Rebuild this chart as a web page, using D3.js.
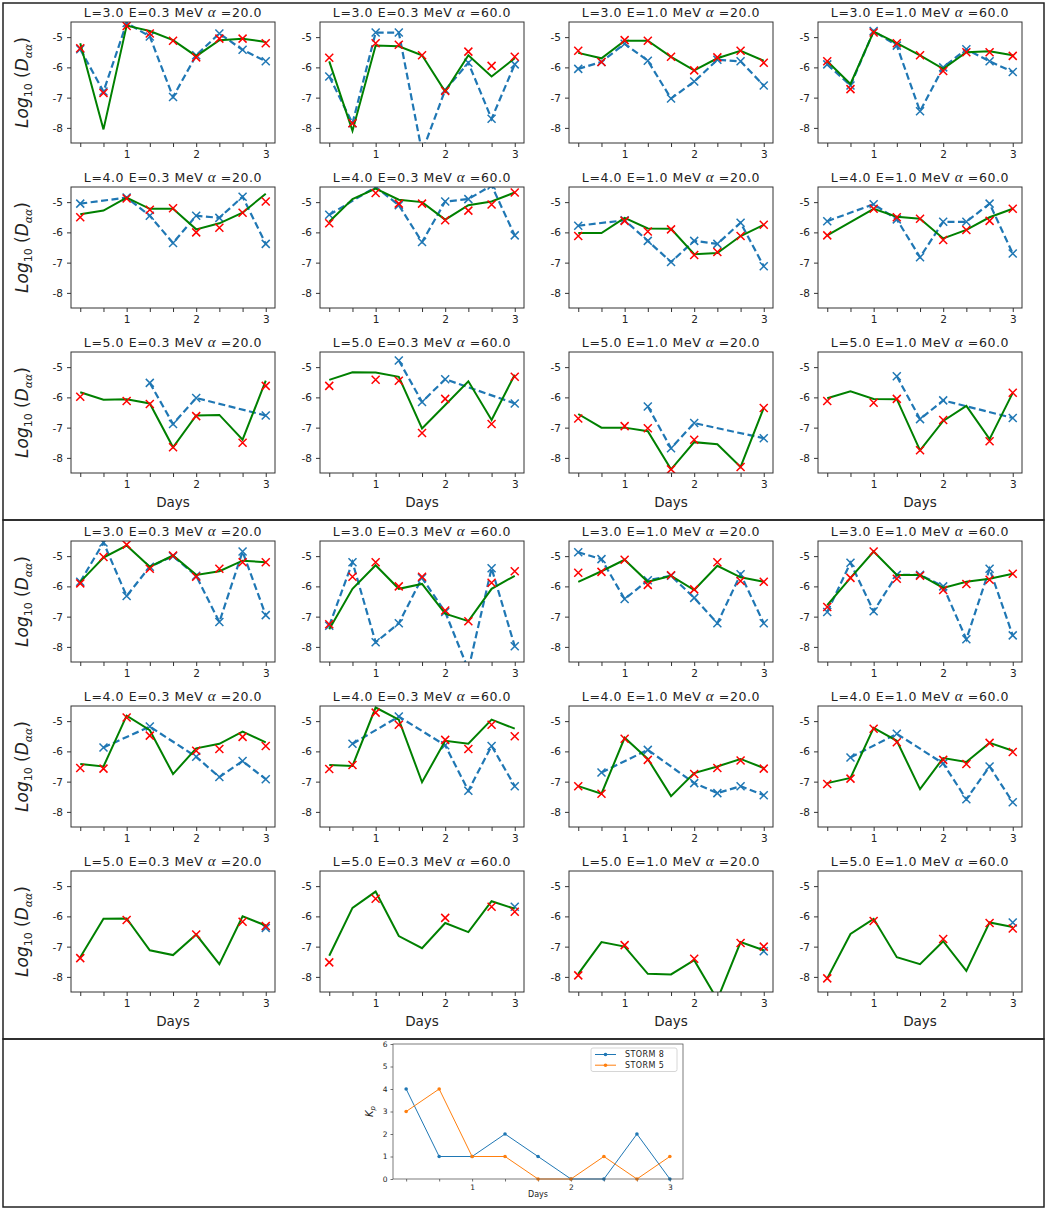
<!DOCTYPE html>
<html lang="en">
<head>
<meta charset="utf-8">
<title>Diffusion coefficients and Kp</title>
<script src="https://d3js.org/d3.v7.min.js"></script>
<style>
  body { margin: 0; background: #fff; }
  svg text { font-family: "DejaVu Sans", sans-serif; fill: #222; }
  .axis path, .axis line { stroke: #333; }
</style>
</head>
<body>
<svg id="fig" width="1052" height="1211"></svg>
<script>
// x positions (days) and their labels
const days = [0.333, 0.667, 1, 1.333, 1.667, 2, 2.333, 2.667, 3];
const dayLabels = ["", "", "1", "", "", "2", "", "", "3"];
const yTicks = [-5, -6, -7, -8];

// subplot titles
const shells = ["3.0", "4.0", "5.0"];
const energies = ["0.3", "0.3", "1.0", "1.0"];
const pitchAngles = ["20.0", "60.0", "20.0", "60.0"];

// top block, 12 subplots row by row
const topGreen = [
  [-5.2, -8.05, -4.62, -4.8, -5.1, -5.63, -5.1, -5.05, -5.16],
  [-5.8, -8.1, -5.28, -5.3, -5.6, -6.8, -5.6, -6.3, -5.7],
  [-5.52, -5.7, -5.12, -5.12, -5.65, -6.1, -5.7, -5.45, -5.78],
  [-5.8, -6.55, -4.82, -5.2, -5.6, -6.05, -5.5, -5.47, -5.6],
  [-5.4, -5.28, -4.85, -5.22, -5.22, -5.9, -5.7, -5.35, -4.72],
  [-5.65, -4.9, -4.55, -4.92, -5.0, -5.58, -5.1, -4.98, -4.68],
  [-6.02, -6.02, -5.52, -5.87, -5.88, -6.72, -6.68, -6.12, -5.75],
  [-6.1, null, -5.22, -5.48, -5.55, -6.2, -5.92, -5.5, -5.22],
  [-5.83, -6.08, -6.06, -6.2, -7.65, -6.6, -6.58, -7.4, -5.45],
  [-5.42, -5.17, -5.18, -5.32, -7.03, -6.25, -5.47, -6.75, -5.25],
  [-6.55, -7.0, -7.0, -7.12, -8.38, -7.48, -7.55, -8.3, -6.35],
  [-6.03, -5.8, -6.05, -6.06, -7.75, -6.78, -6.28, -7.38, -5.85]
];
const topBlue = [
  [-5.4, -6.8, -4.53, -4.98, -6.98, -5.6, -4.88, -5.42, -5.8],
  [-6.3, -7.85, -4.85, -4.85, -8.8, -6.75, -5.85, -7.7, -5.9],
  [-6.05, -5.82, -5.22, -5.78, -7.03, -6.47, -5.75, -5.8, -6.6],
  [-5.9, -6.6, -4.8, -5.28, -7.45, -6.0, -5.4, -5.8, -6.15],
  [-5.05, null, -4.85, -5.45, -6.35, -5.45, -5.52, -4.82, -6.38],
  [-5.42, null, -4.5, -5.1, -6.32, -4.98, -4.9, -4.45, -6.1],
  [-5.78, null, -5.6, -6.28, -6.98, -6.28, -6.38, -5.68, -7.12],
  [-5.63, null, -5.07, -5.57, -6.82, -5.65, -5.65, -5.05, -6.7],
  [null, null, null, -5.52, -6.88, -6.02, null, null, -6.6],
  [null, null, null, -4.78, -6.15, -5.4, null, null, -6.2],
  [null, null, null, -6.3, -7.68, -6.85, null, null, -7.35],
  [null, null, null, -5.3, -6.72, -6.1, null, null, -6.68]
];
const topRed = [
  [-5.37, -6.85, -4.63, -4.88, -5.12, -5.67, -5.05, -5.05, -5.2],
  [-5.68, -7.85, -5.2, -5.25, -5.6, -6.78, -5.48, -5.95, -5.65],
  [-5.45, -5.82, -5.1, -5.12, -5.65, -6.1, -5.67, -5.45, -5.85],
  [-5.8, -6.72, -4.85, -5.2, -5.6, -6.12, -5.5, -5.5, -5.62],
  [-5.5, null, -4.88, -5.25, -5.2, -6.0, -5.85, -5.35, -4.98],
  [-5.7, null, -4.7, -5.05, -5.05, -5.6, -5.28, -5.08, -4.68],
  [-6.12, null, -5.62, -5.97, -5.9, -6.75, -6.65, -6.12, -5.75],
  [-6.1, null, -5.22, -5.5, -5.55, -6.25, -5.92, -5.62, -5.22],
  [-5.98, null, -6.12, -6.22, -7.65, -6.62, null, -7.5, -5.62],
  [-5.62, null, -5.42, -5.45, -7.18, -6.05, null, -6.88, -5.32],
  [-6.7, null, -6.95, -7.02, -8.38, -7.4, null, -8.3, -6.35],
  [-6.12, null, -6.18, -6.05, -7.75, -6.75, null, -7.45, -5.85]
];

// middle block
const midGreen = [
  [-5.85, -5.05, -4.65, -5.35, -4.98, -5.62, -5.5, -5.15, -5.2],
  [-7.42, -6.08, -5.3, -6.08, -5.92, -6.9, -7.15, -6.08, -5.65],
  [-5.85, -5.5, -5.12, -5.85, -5.65, -6.12, -5.32, -5.7, -5.85],
  [-6.62, -5.72, -4.85, -5.62, -5.62, -6.05, -5.85, -5.75, -5.58],
  [-6.42, -6.5, -4.82, -5.3, -6.75, -5.9, -5.75, -5.35, -5.7],
  [-6.45, -6.48, -4.55, -4.95, -7.02, -5.65, -5.75, -4.95, -5.25],
  [-7.15, -7.4, -5.55, -6.25, -7.48, -6.72, -6.5, -6.25, -6.55],
  [-7.05, -6.88, -5.22, -5.65, -7.25, -6.22, -6.35, -5.72, -5.98],
  [-7.35, -6.08, -6.07, -7.12, -7.28, -6.6, -7.58, -6.0, -6.3],
  [-7.3, -5.72, -5.18, -6.65, -7.05, -6.22, -6.52, -5.5, -5.75],
  [-7.9, -6.85, -7.0, -7.9, -7.92, -7.45, -8.75, -6.85, -7.12],
  [-8.05, -6.58, -6.08, -7.35, -7.58, -6.82, -7.8, -6.2, -6.35]
];
const midBlue = [
  [-5.85, -4.55, -6.32, -5.35, -5.0, -5.65, -7.18, -4.85, -6.95],
  [-7.3, -5.2, -7.85, -7.22, -5.72, -6.85, -8.75, -5.4, -7.98],
  [-4.87, -5.1, -6.42, -5.8, -5.65, -6.38, -7.22, -5.6, -7.22],
  [-6.85, -5.22, -6.82, -5.62, -5.62, -6.0, -7.75, -5.42, -7.62],
  [null, -5.87, null, -5.18, null, -6.18, -6.85, -6.32, -6.92],
  [null, -5.75, null, -4.85, null, -5.8, -7.3, -5.82, -7.15],
  [null, -6.7, null, -5.95, null, -7.05, -7.38, -7.15, -7.45],
  [null, -6.2, null, -5.42, null, -6.4, -7.58, -6.5, -7.68],
  [null, null, null, null, null, null, null, null, -6.38],
  [null, null, null, null, null, null, null, null, -5.68],
  [null, null, null, null, null, null, null, null, -7.15],
  [null, null, null, null, null, null, null, null, -6.2]
];
const midRed = [
  [-5.9, -5.03, -4.62, -5.42, -4.98, -5.68, -5.42, -5.2, -5.2],
  [-7.25, -5.68, -5.2, -6.0, -5.68, -6.8, -7.15, -5.88, -5.5],
  [-5.55, -5.52, -5.12, -5.95, -5.63, -6.1, -5.2, -5.82, -5.85],
  [-6.68, -5.72, -4.85, -5.75, -5.65, -6.12, -5.92, -5.78, -5.58],
  [-6.55, -6.57, -4.88, -5.48, null, -5.98, -5.92, -5.52, -5.82],
  [-6.58, -6.45, -4.72, -5.12, null, -5.62, -5.92, -5.12, -5.5],
  [-7.15, -7.4, -5.58, -6.28, null, -6.75, -6.55, -6.3, -6.57],
  [-7.08, -6.9, -5.25, -5.7, null, -6.28, -6.42, -5.72, -6.02],
  [-7.38, null, -6.12, null, null, -6.6, null, -6.18, -6.32],
  [-7.52, null, -5.42, null, null, -6.05, null, -5.68, -5.85],
  [-7.95, null, -6.95, null, null, -7.4, null, -6.88, -7.0],
  [-8.05, null, -6.15, null, null, -6.75, null, -6.22, -6.4]
];

// Kp index
const kpStorm8 = [4, 1, 1, 2, 1, 0, 0, 2, 0];
const kpStorm5 = [3, 4, 1, 1, 0, 0, 1, 0, 1];
const kpTicks = [0, 1, 2, 3, 4, 5, 6];

const svg = d3.select("#fig");

// panel frames
[[3, 3, 1041, 517], [3, 520, 1041, 519], [3, 1039, 1041, 168]].forEach(f => {
  svg.append("rect").attr("x", f[0]).attr("y", f[1]).attr("width", f[2]).attr("height", f[3])
    .attr("fill", "none").attr("stroke", "#222").attr("stroke-width", 1.5);
});

const colLeft = [71, 320, 569, 818];
const rowTop = [22, 187, 352, 541, 706, 871];
const plotW = 204, plotH = 121;

const x = d3.scaleLinear().domain([0.2, 3.133]).range([0, plotW]);
const y = d3.scaleLinear().domain([-8.5, -4.5]).range([plotH, 0]);

const xMark = "M-4,-4L4,4M-4,4L4,-4";
let clipId = 0;

function subplot(left, top, green, blue, red, title, firstCol, lastRow) {
  const g = svg.append("g").attr("transform", "translate(" + left + "," + top + ")");
  const cid = "clip" + (clipId++);
  g.append("clipPath").attr("id", cid).append("rect").attr("width", plotW).attr("height", plotH);

  g.append("g").attr("class", "axis")
    .call(d3.axisLeft(y).tickValues(yTicks).tickFormat(d => String(d)).tickSize(4).tickPadding(4))
    .call(a => a.select(".domain").remove())
    .selectAll("text").attr("font-size", 10.5).attr("fill", "#333");
  g.append("g").attr("class", "axis").attr("transform", "translate(0," + plotH + ")")
    .call(d3.axisBottom(x).tickValues(days).tickFormat((d, i) => dayLabels[i]).tickSize(4).tickPadding(4))
    .call(a => a.select(".domain").remove())
    .selectAll("text").attr("font-size", 10.5).attr("fill", "#333");

  const body = g.append("g").attr("clip-path", "url(#" + cid + ")");
  const pts = arr => days.map((d, i) => [d, arr[i]]).filter(p => p[1] !== null);
  const line = d3.line().x(p => x(p[0])).y(p => y(p[1]));

  const bp = pts(blue);
  if (bp.length > 1) {
    body.append("path").attr("d", line(bp)).attr("fill", "none")
      .attr("stroke", "#1f77b4").attr("stroke-width", 2.2).attr("stroke-dasharray", "7,3.5");
  }
  body.selectAll(".bx").data(bp).enter().append("path").attr("class", "bx")
    .attr("d", xMark).attr("transform", p => "translate(" + x(p[0]) + "," + y(p[1]) + ")")
    .attr("stroke", "#1f77b4").attr("stroke-width", 1.5);

  body.append("path").attr("d", line(pts(green))).attr("fill", "none")
    .attr("stroke", "green").attr("stroke-width", 2);

  body.selectAll(".rx").data(pts(red)).enter().append("path").attr("class", "rx")
    .attr("d", xMark).attr("transform", p => "translate(" + x(p[0]) + "," + y(p[1]) + ")")
    .attr("stroke", "red").attr("stroke-width", 1.5);

  g.append("rect").attr("width", plotW).attr("height", plotH)
    .attr("fill", "none").attr("stroke", "#333").attr("stroke-width", 1);

  const t = g.append("text").attr("x", plotW / 2).attr("y", -5).attr("text-anchor", "middle")
    .attr("font-size", 12.5).attr("letter-spacing", 0.6);
  t.append("tspan").text(title[0]);
  t.append("tspan").attr("font-family", "Liberation Serif, serif").attr("font-style", "italic")
    .attr("font-size", 15).text(" α");
  t.append("tspan").text(" =" + title[1]);

  if (firstCol) {
    const yl = g.append("text").attr("transform", "translate(-43," + plotH / 2 + ") rotate(-90)")
      .attr("text-anchor", "middle").attr("font-family", "Liberation Serif, serif")
      .attr("font-size", 17).attr("font-style", "italic");
    yl.append("tspan").text("Log");
    yl.append("tspan").attr("font-size", 11).attr("font-style", "normal").attr("dy", 4).text("10");
    yl.append("tspan").attr("font-style", "normal").attr("dy", -4).text(" (");
    yl.append("tspan").text("D");
    yl.append("tspan").attr("font-size", 11).attr("dy", 4).text("αα");
    yl.append("tspan").attr("font-style", "normal").attr("dy", -4).text(")");
  }
  if (lastRow) {
    g.append("text").attr("x", plotW / 2).attr("y", plotH + 34).attr("text-anchor", "middle")
      .attr("font-size", 13.5).text("Days");
  }
}

[[topGreen, topBlue, topRed, 0], [midGreen, midBlue, midRed, 3]].forEach(block => {
  for (let r = 0; r < 3; r++) {
    for (let c = 0; c < 4; c++) {
      const k = r * 4 + c;
      const title = ["L=" + shells[r] + " E=" + energies[c] + " MeV", pitchAngles[c]];
      subplot(colLeft[c], rowTop[block[3] + r], block[0][k], block[1][k], block[2][k], title, c === 0, r === 2);
    }
  }
});

// Kp chart
const kpL = 393, kpT = 1044, kpW = 290, kpH = 135;
const kx = d3.scaleLinear().domain([0.2, 3.133]).range([0, kpW]);
const ky = d3.scaleLinear().domain([0, 6]).range([kpH, 0]);
const kg = svg.append("g").attr("transform", "translate(" + kpL + "," + kpT + ")");

kg.append("g").attr("class", "axis")
  .call(d3.axisLeft(ky).tickValues(kpTicks).tickFormat(d => String(d)).tickSize(2.5).tickPadding(3))
  .call(a => a.select(".domain").remove())
  .selectAll("text").attr("font-size", 7.5).attr("fill", "#333");
kg.append("g").attr("class", "axis").attr("transform", "translate(0," + kpH + ")")
  .call(d3.axisBottom(kx).tickValues(days).tickFormat((d, i) => dayLabels[i]).tickSize(2.5).tickPadding(3))
  .call(a => a.select(".domain").remove())
  .selectAll("text").attr("font-size", 7.5).attr("fill", "#333");
kg.selectAll(".axis line").attr("stroke-width", 0.7);

const kline = d3.line().x((d, i) => kx(days[i])).y(d => ky(d));
[[kpStorm8, "#1f77b4"], [kpStorm5, "#ff7f0e"]].forEach(s => {
  kg.append("path").attr("d", kline(s[0])).attr("fill", "none").attr("stroke", s[1]).attr("stroke-width", 1);
  kg.selectAll(null).data(s[0]).enter().append("circle")
    .attr("cx", (d, i) => kx(days[i])).attr("cy", d => ky(d)).attr("r", 1.8).attr("fill", s[1]);
});
kg.append("rect").attr("width", kpW).attr("height", kpH).attr("fill", "none")
  .attr("stroke", "#444").attr("stroke-width", 0.7);

kg.append("text").attr("x", kpW / 2).attr("y", kpH + 18).attr("text-anchor", "middle")
  .attr("font-size", 8).text("Days");
const kl = kg.append("text").attr("transform", "translate(-20," + kpH / 2 + ") rotate(-90)")
  .attr("text-anchor", "middle").attr("font-family", "Liberation Serif, serif")
  .attr("font-style", "italic").attr("font-size", 10);
kl.append("tspan").text("K");
kl.append("tspan").attr("font-size", 7).attr("dy", 2).text("p");

// legend
const lg = kg.append("g").attr("transform", "translate(198,4)");
lg.append("rect").attr("width", 86).attr("height", 23.5).attr("rx", 2)
  .attr("fill", "#fff").attr("stroke", "#ccc").attr("stroke-width", 0.8);
[["STORM 8", "#1f77b4"], ["STORM 5", "#ff7f0e"]].forEach((e, i) => {
  const yy = 6.5 + i * 10.7;
  lg.append("line").attr("x1", 4).attr("x2", 25).attr("y1", yy).attr("y2", yy)
    .attr("stroke", e[1]).attr("stroke-width", 1);
  lg.append("circle").attr("cx", 14.5).attr("cy", yy).attr("r", 1.8).attr("fill", e[1]);
  lg.append("text").attr("x", 34).attr("y", yy + 2.7).attr("font-size", 8).attr("letter-spacing", 0.4).text(e[0]);
});
</script>
</body>
</html>
